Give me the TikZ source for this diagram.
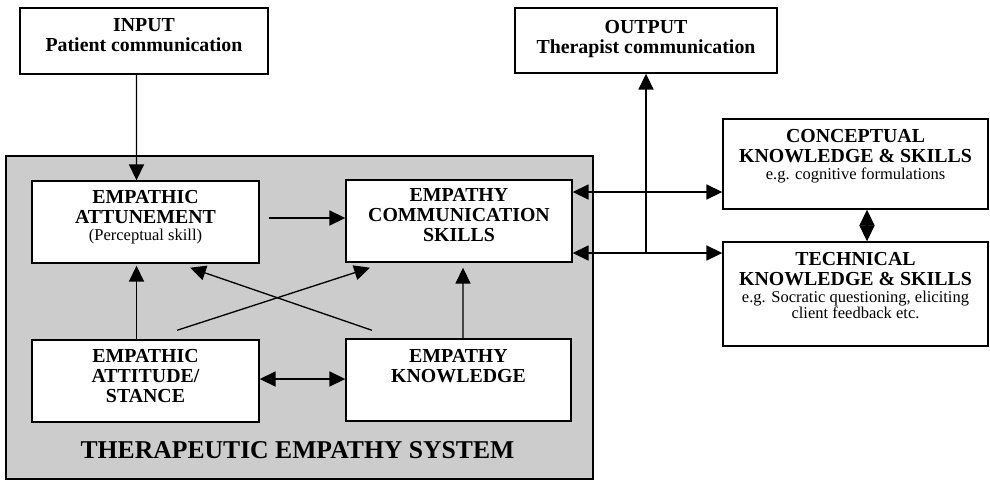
\documentclass[tikz,border=0pt]{standalone}
\usepackage{fontspec}
\setmainfont{Liberation Serif}
\usepackage{xcolor}
\usetikzlibrary{arrows.meta,positioning,calc}

\newlength{\pxu}
\setlength{\pxu}{0.02cm}
\newcommand{\ttlfont}{\fontsize{11.3pt}{11.4pt}\selectfont\bfseries}
\newcommand{\notefont}{\fontsize{9.4pt}{9.6pt}\selectfont\mdseries}
% width, height, top gap (all in px), text
\newcommand{\boxtxt}[4]{\parbox[c][#2\pxu][t]{#1\pxu}{\centering\vspace*{#3\pxu}\ttlfont #4\par}}
\definecolor{sysgray}{RGB}{204,204,204}

\begin{document}
\begin{tikzpicture}[x=0.02cm, y=-0.02cm,
    box/.style={draw, line width=0.8pt, fill=white, inner sep=0pt},
    arr/.style={-{Triangle[length=9pt,width=8.5pt]}, line width=0.75pt},
    dblarr/.style={{Triangle[length=9pt,width=8.5pt]}-{Triangle[length=9pt,width=8.5pt]}, line width=0.75pt}]
    \useasboundingbox (0,0) rectangle (990,481);

    % the grey system frame
    \node [draw, line width=1.6pt, fill=sysgray, inner sep=0pt,
           minimum width=587\pxu, minimum height=323\pxu] (sys) at (299.5,317.5) {};
    \node [font=\fontsize{14.6pt}{16pt}\selectfont\bfseries] (systitle) at (297.5,450) {THERAPEUTIC EMPATHY SYSTEM};

    % input and output
    \node [box] (input) at (144,41) {\boxtxt{248}{66}{10}{INPUT\\Patient communication}};
    \node [box] (output) at (646,40.5) {\boxtxt{262}{65}{12}{OUTPUT\\Therapist communication}};

    % boxes inside the system
    \node [box] (attune) at (145.5,222) {\boxtxt{227}{82}{9}{EMPATHIC\\ATTUNEMENT\par\notefont (Perceptual skill)}};
    \node [box] (comm) at (459,221) {\boxtxt{226}{82}{8}{EMPATHY\\COMMUNICATION\\SKILLS}};
    \node [box] (attitude) at (145.5,381) {\boxtxt{227}{82}{9}{EMPATHIC\\ATTITUDE/\\STANCE}};
    \node [box] (knowl) at (458.5,380) {\boxtxt{225}{82}{10}{EMPATHY\\KNOWLEDGE}};

    % knowledge & skills on the right
    \node [box] (concept) at (855.5,164) {\boxtxt{265}{90}{10}{CONCEPTUAL\\KNOWLEDGE \& SKILLS\par\notefont e.g. cognitive formulations}};
    \node [box] (tech) at (855.5,294) {\boxtxt{265}{104}{10}{TECHNICAL\\KNOWLEDGE \& SKILLS\par\notefont e.g. Socratic questioning, eliciting\\client feedback etc.}};

    % arrows
    \draw [arr] ($(input.south)+(-7.5,0)$) -- ($(attune.north)+(-9,0)$);
    \draw [arr] ($(attitude.north)+(-9,0)$) -- ($(attune.south)+(-9,2)$);
    \draw [arr] ($(attune.east)+(9,-4)$) -- ($(comm.west)+(0,-3)$);
    \draw [arr] ($(knowl.north)+(4.5,0)$) -- ($(comm.south)+(4,5)$);
    \draw [arr] ($(attitude.north)+(31.5,-9)$) -- ($(comm.south)+(-89,5)$);
    \draw [arr] ($(knowl.north)+(-86.5,-8)$) -- ($(attune.south)+(44.5,4)$);
    \draw [dblarr] ($(attitude.east)+(0,-2)$) -- ($(knowl.west)+(0,-1)$);
    \draw [dblarr] ($(comm.east)+(0,-29)$) -- ($(concept.west)+(0,28)$);
    \draw [dblarr] ($(comm.east)+(0,32)$) coordinate (junc) -- ($(tech.west)+(0,-41)$);
    \draw [arr] (junc -| output.south) -- (output.south);
    \draw [dblarr] ($(concept.south)+(11.5,0)$) -- ($(tech.north)+(11.5,0)$);
\end{tikzpicture}
\end{document}
